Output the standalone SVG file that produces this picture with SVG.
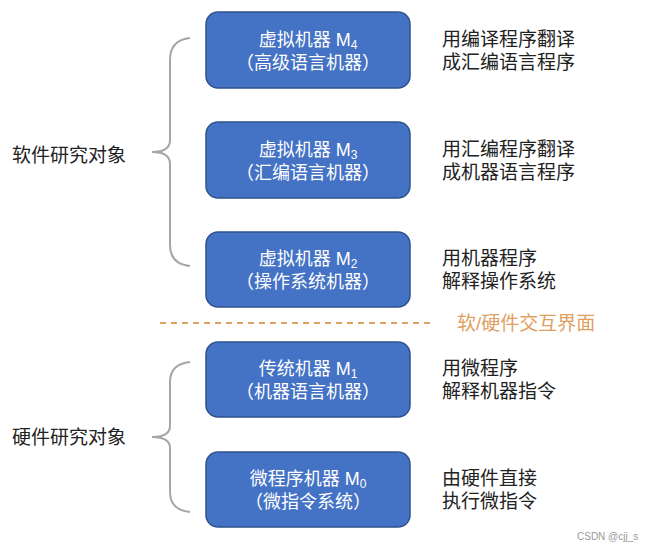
<svg xmlns="http://www.w3.org/2000/svg" width="649" height="549" viewBox="0 0 649 549">
<style>
.box{fill:#4472C4;stroke:#2F528F;stroke-width:1.5}
.bt{fill:#fff;font-family:"Liberation Sans","Noto Sans CJK SC",sans-serif;font-size:18px;text-anchor:middle}
.sub{font-size:12px}
.rt{fill:#222;font-family:"Liberation Sans","Noto Sans CJK SC",sans-serif;font-size:19px}
.brace{fill:none;stroke:#A6A6A6;stroke-width:2}
</style>
<rect width="649" height="549" fill="#fff"/>
<g id="node-m4"><rect class="box" x="206" y="12" width="204" height="76" rx="12"/>
<text class="bt" x="308" y="46">虚拟机器 M<tspan class="sub" dy="3">4</tspan></text>
<text class="bt" x="308" y="69">（高级语言机器）</text></g>
<g id="node-m3"><rect class="box" x="206" y="122" width="204" height="76" rx="12"/>
<text class="bt" x="308" y="156">虚拟机器 M<tspan class="sub" dy="3">3</tspan></text>
<text class="bt" x="308" y="179">（汇编语言机器）</text></g>
<g id="node-m2"><rect class="box" x="206" y="232" width="204" height="75" rx="12"/>
<text class="bt" x="308" y="265">虚拟机器 M<tspan class="sub" dy="3">2</tspan></text>
<text class="bt" x="308" y="288">（操作系统机器）</text></g>
<g id="node-m1"><rect class="box" x="206" y="342" width="204" height="75" rx="12"/>
<text class="bt" x="308" y="375">传统机器 M<tspan class="sub" dy="3">1</tspan></text>
<text class="bt" x="308" y="398">（机器语言机器）</text></g>
<g id="node-m0"><rect class="box" x="206" y="452" width="204" height="75" rx="12"/>
<text class="bt" x="308" y="485">微程序机器 M<tspan class="sub" dy="3">0</tspan></text>
<text class="bt" x="308" y="508">（微指令系统）</text></g>
<g id="connectors">
<path class="brace" d="M190,38 Q170,40 170,60 L170,140 Q170,152 152,152 Q170,152 170,164 L170,245 Q170,264 190,266"/>
<path class="brace" d="M190,362 Q170,364 170,382 L170,426 Q170,437 152,437 Q170,437 170,448 L170,492 Q170,510 190,512"/>
<line x1="160" y1="323" x2="432" y2="323" stroke="#E0A060" stroke-width="2" stroke-dasharray="6,5"/>
</g>
<g id="labels">
<text class="rt" x="12" y="162">软件研究对象</text>
<text class="rt" x="12" y="444">硬件研究对象</text>
<text class="rt" x="442" y="46">用编译程序翻译</text>
<text class="rt" x="442" y="69">成汇编语言程序</text>
<text class="rt" x="442" y="156">用汇编程序翻译</text>
<text class="rt" x="442" y="179">成机器语言程序</text>
<text class="rt" x="442" y="265">用机器程序</text>
<text class="rt" x="442" y="288">解释操作系统</text>
<text class="rt" x="442" y="375">用微程序</text>
<text class="rt" x="442" y="398">解释机器指令</text>
<text class="rt" x="442" y="485">由硬件直接</text>
<text class="rt" x="442" y="508">执行微指令</text>
<text x="457" y="330" fill="#E0A060" font-family="Liberation Sans,'Noto Sans CJK SC',sans-serif" font-size="19">软/硬件交互界面</text>
<text x="577" y="540" fill="#999" font-family="Liberation Sans,sans-serif" font-size="10">CSDN @cjj_s</text>
</g>
</svg>
